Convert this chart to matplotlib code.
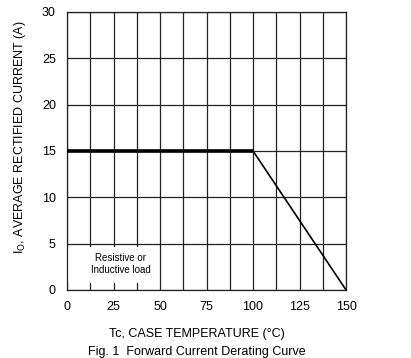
import matplotlib
matplotlib.use("Agg")
import matplotlib.pyplot as plt
from matplotlib.patches import Rectangle
import numpy as np

plt.rcParams['font.family'] = ['Liberation Sans', 'DejaVu Sans']

temp_flat = [0, 100]
curr_flat = [15, 15]
temp_slope = [100, 150]
curr_slope = [15, 0]
xticks = [0, 25, 50, 75, 100, 125, 150]
yticks = [0, 5, 10, 15, 20, 25, 30]

fig = plt.figure(figsize=(4.11, 3.58), dpi=100)
ax = fig.add_axes([0.163, 0.19, 0.679, 0.7765])
ax.set_xlim(0, 150)
ax.set_ylim(0, 30)
ax.set_xticks(xticks)
ax.set_yticks(yticks)
ax.set_xticks(np.arange(0, 151, 12.5), minor=True)
ax.tick_params(axis='both', which='both', length=0, labelsize=9)
ax.tick_params(axis='x', pad=8)
ax.tick_params(axis='y', pad=8)
ax.grid(True, which='both', axis='x', color='#222222', lw=0.9)
ax.grid(True, which='major', axis='y', color='#222222', lw=0.9)
for s in ax.spines.values():
    s.set_color('#222222')
    s.set_linewidth(0.9)

ax.plot(temp_flat, curr_flat, color='black', lw=2.6, solid_capstyle='butt', zorder=3)
ax.plot(temp_slope, curr_slope, color='black', lw=1.2, zorder=3)

ax.add_patch(Rectangle((0.6, 0.7), 48.5, 3.9, facecolor='white', edgecolor='none', zorder=2.5))
ax.text(29, 2.8, 'Resistive or\nInductive load', ha='center', va='center', fontsize=7,
        linespacing=1.25, zorder=4)

fig.text(0.049, 0.617, r'I$_\mathrm{O}$, AVERAGE RECTIFIED CURRENT (A)', rotation=90,
         ha='center', va='center', fontsize=9)
fig.text(0.48, 0.066, 'Tc, CASE TEMPERATURE (\u00b0C)', ha='center', va='center', fontsize=9)
fig.text(0.48, 0.017, 'Fig. 1  Forward Current Derating Curve', ha='center', va='center', fontsize=9)

fig.savefig('out.png', dpi=100)
